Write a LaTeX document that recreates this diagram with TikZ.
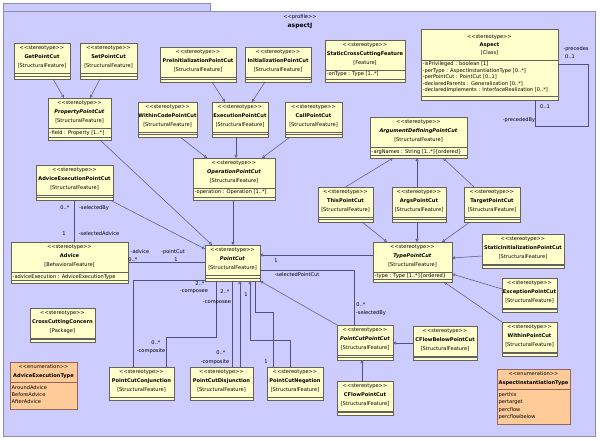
\documentclass[tikz,border=0pt]{standalone}
\usepackage{fontspec}
\setmainfont{DejaVu Sans}
\usetikzlibrary{arrows.meta,calc}
\definecolor{bgl}{RGB}{204,204,255}
\definecolor{boxfill}{RGB}{255,255,204}
\definecolor{boxline}{RGB}{100,98,90}
\definecolor{conn}{RGB}{80,80,130}
\definecolor{enumfill}{RGB}{255,204,153}
\definecolor{enumline}{RGB}{150,100,90}
\definecolor{framec}{RGB}{140,140,165}
\newcommand\umlfs{\fontsize{5.1}{6}\selectfont}
\tikzset{
  ubox/.style={draw=boxline, fill=boxfill, line width=0.5pt, inner sep=0pt, outer sep=0pt},
  ebox/.style={draw=enumline, fill=enumfill, line width=0.5pt, inner sep=0pt, outer sep=0pt},
  utxt/.style={inner sep=0pt, font=\umlfs},
  atxt/.style={inner sep=0pt, font=\umlfs, anchor=west},
  lbl/.style={inner sep=0pt, font=\umlfs},
  usep/.style={draw=boxline, line width=0.4pt},
  esep/.style={draw=enumline, line width=0.4pt},
  gen/.style={draw=conn, line width=0.5pt, -{Triangle[open, length=3pt, width=3pt]}},
  assoc/.style={draw=conn, line width=0.5pt},
}
\newcommand\ubox[7]{%
  \node[ubox, minimum width=#4pt, minimum height=#5pt, anchor=north west] (#1) at (#2,#3) {};
  \node[utxt] (#1-st) at ([yshift=-5pt]#1.north) {<{}<stereotype>{}>};
  \node[utxt] (#1-nm) at ([yshift=-14pt]#1.north) {#6};
  \node[utxt] (#1-mt) at ([yshift=-23pt]#1.north) {#7};
  \draw[usep] ([yshift=-30pt]#1.north west) -- ([yshift=-30pt]#1.north east);
  \draw[usep] ([yshift=3pt]#1.south west) -- ([yshift=3pt]#1.south east);
}
\newcommand\uattr[4]{%
  \node[atxt] (#1) at ([xshift=1.5pt,yshift=-#3pt]#2.north west) {#4};
}
\newcommand\uenum[6]{%
  \node[ebox, minimum width=#4pt, minimum height=#5pt, anchor=north west] (#1) at (#2,#3) {};
  \node[utxt] (#1-st) at ([yshift=-4.5pt]#1.north) {<{}<enumeration>{}>};
  \node[utxt] (#1-nm) at ([yshift=-14pt]#1.north) {\textbf{#6}};
  \draw[esep] ([yshift=-20pt]#1.north west) -- ([yshift=-20pt]#1.north east);
}
\begin{document}
\begin{tikzpicture}[x=1pt,y=-1pt]
\useasboundingbox (0,0) rectangle (600,441);
\fill[white] (0,0) rectangle (600,441);
\path[fill=bgl, draw=framec, line width=0.6pt] (3,3) rectangle (210,11);
\path[fill=bgl, draw=framec, line width=0.6pt] (3,11) rectangle (595,436);
\node[utxt] (ttl1) at (300,17) {<{}<profile>{}>};
\node[utxt, font=\fontsize{6}{7}\selectfont\bfseries] (ttl2) at (300,26) {aspectJ};

% boxes
\ubox{getpc}{14}{43}{56}{36}{\textbf{GetPointCut}}{[StructuralFeature]}
\ubox{setpc}{80}{43}{57}{36}{\textbf{SetPointCut}}{[StructuralFeature]}
\ubox{preinit}{160}{47}{76}{35}{\textbf{PreInitializationPointCut}}{[StructuralFeature]}
\ubox{init}{245}{47}{66}{35}{\textbf{InitializationPointCut}}{[StructuralFeature]}
\ubox{scc}{325}{40}{80}{42}{\textbf{StaticCrossCuttingFeature}}{[Feature]}
\uattr{scc-a1}{scc}{34}{-onType : Type [1..*]}

% Aspect
\node[ubox, minimum width=137pt, minimum height=71pt, anchor=north west] (aspect) at (421,29) {};
\node[utxt] (aspect-st) at ([yshift=-8pt]aspect.north) {<{}<stereotype>{}>};
\node[utxt] (aspect-nm) at ([yshift=-16pt]aspect.north) {\textbf{Aspect}};
\node[utxt] (aspect-mt) at ([yshift=-24pt]aspect.north) {[Class]};
\draw[usep] ([yshift=-31pt]aspect.north west) -- ([yshift=-31pt]aspect.north east);
\draw[usep] ([yshift=4pt]aspect.south west) -- ([yshift=4pt]aspect.south east);
\uattr{aspect-a1}{aspect}{35.5}{-isPrivileged : boolean [1]}
\uattr{aspect-a2}{aspect}{42}{-perType : AspectInstantiationType [0..*]}
\uattr{aspect-a3}{aspect}{48.5}{-perPointCut : PointCut [0..1]}
\uattr{aspect-a4}{aspect}{55}{-declaredParents : Generalization [0..*]}
\uattr{aspect-a5}{aspect}{61.5}{-declaredImplements : InterfaceRealization [0..*]}

\ubox{prop}{48}{98}{63}{42}{\textbf{\textit{PropertyPointCut}}}{[StructuralFeature]}
\uattr{prop-a1}{prop}{35.5}{-field : Property [1..*]}
\ubox{withincode}{138}{102}{59}{35}{\textbf{WithinCodePointCut}}{[StructuralFeature]}
\ubox{exec}{212}{102}{56}{35}{\textbf{ExecutionPointCut}}{[StructuralFeature]}
\ubox{call}{285}{102}{57}{35}{\textbf{CallPointCut}}{[StructuralFeature]}
\ubox{argdef}{370}{117}{97}{41}{\textbf{\textit{ArgumentDefiningPointCut}}}{[StructuralFeature]}
\uattr{argdef-a1}{argdef}{35.5}{-argNames : String [1..*]\{ordered\}}
\ubox{op}{193}{158}{82}{42}{\textbf{\textit{OperationPointCut}}}{[StructuralFeature]}
\uattr{op-a1}{op}{34.5}{-operation : Operation [1..*]}
\ubox{advexec}{36}{165}{77}{35}{\textbf{AdviceExecutionPointCut}}{[StructuralFeature]}
\ubox{this}{318}{187}{55}{35}{\textbf{ThisPointCut}}{[StructuralFeature]}
\ubox{args}{392}{187}{54}{35}{\textbf{ArgsPointCut}}{[StructuralFeature]}
\ubox{target}{464}{187}{56}{35}{\textbf{TargetPointCut}}{[StructuralFeature]}
\ubox{statinit}{482}{234}{82}{34}{\textbf{StaticInitializationPointCut}}{[StructuralFeature]}
\ubox{advice}{11}{242}{117}{41}{\textbf{Advice}}{[BehavioralFeature]}
\uattr{advice-a1}{advice}{35}{-adviceExecution : AdviceExecutionType}
\ubox{pc}{205}{245}{55}{36}{\textbf{\textit{PointCut}}}{[StructuralFeature]}
\ubox{type}{373}{242}{79}{40}{\textbf{\textit{TypePointCut}}}{[StructuralFeature]}
\uattr{type-a1}{type}{34}{-type : Type [1..*]\{ordered\}}
\ubox{except}{502}{278}{55}{34}{\textbf{ExceptionPointCut}}{[StructuralFeature]}
\ubox{cc}{30}{308}{65}{34}{\textbf{CrossCuttingConcern}}{[Package]}
\ubox{within}{502}{322}{55}{34}{\textbf{WithinPointCut}}{[StructuralFeature]}
\ubox{pcpc}{337}{325}{56}{35}{\textbf{\textit{PointCutPointCut}}}{[StructuralFeature]}
\ubox{cflowbelow}{413}{326}{64}{34}{\textbf{CFlowBelowPointCut}}{[StructuralFeature]}
\ubox{conj}{109}{367}{65}{33}{\textbf{PointCutConjunction}}{[StructuralFeature]}
\ubox{disj}{190}{367}{63}{33}{\textbf{PointCutDisjunction}}{[StructuralFeature]}
\ubox{neg}{267}{367}{56}{33}{\textbf{PointCutNegation}}{[StructuralFeature]}
\ubox{cflow}{337}{381}{56}{34}{\textbf{CFlowPointCut}}{[StructuralFeature]}

\uenum{aet}{10}{362}{67}{47}{AdviceExecutionType}
\uattr{aet-l1}{aet}{26}{AroundAdvice}
\uattr{aet-l2}{aet}{33}{BeforeAdvice}
\uattr{aet-l3}{aet}{40}{AfterAdvice}
\uenum{ait}{497}{369}{73}{55}{AspectInstantiationType}
\uattr{ait-l1}{ait}{26}{perthis}
\uattr{ait-l2}{ait}{33}{pertarget}
\uattr{ait-l3}{ait}{41}{percflow}
\uattr{ait-l4}{ait}{48}{percflowbelow}

% generalizations
\draw[gen] ([xshift=11pt]getpc.south) -- ([xshift=-15.5pt]prop.north);
\draw[gen] ([xshift=-8.5pt]setpc.south) -- ([xshift=10.5pt]prop.north);
\draw[gen] ([xshift=14pt]preinit.south) -- ([xshift=-15pt]exec.north);
\draw[gen] ([xshift=-13pt]init.south) -- ([xshift=12pt]exec.north);
\draw[gen] ([xshift=12.5pt]withincode.south) -- ([xshift=-27pt]op.north);
\draw[gen] ([xshift=-4pt]exec.south) -- ([xshift=2pt]op.north);
\draw[gen] ([xshift=-23.5pt]call.south) -- ([xshift=28pt]op.north);
\draw[gen] (this.north) -- ([xshift=-25.5pt]argdef.south);
\draw[gen] ([xshift=-2pt]args.north) -- ([xshift=-1.5pt]argdef.south);
\draw[gen] ([xshift=-18pt]target.north) -- ([xshift=24.5pt]argdef.south);
\draw[gen] ([xshift=16.5pt]this.south) -- ([xshift=-25.5pt]type.north);
\draw[gen] ([xshift=-2pt]args.south) -- ([xshift=4.5pt]type.north);
\draw[gen] ([xshift=-22pt]target.south) -- ([xshift=29.5pt]type.north);
\draw[gen] ([yshift=-5pt]statinit.west) -- ([yshift=4pt]type.east);
\draw[gen] ([yshift=6pt]except.west) -- ([yshift=-12pt]type.east);
\draw[gen] (within.north west) -- ([xshift=-8pt]type.south east);
\draw[gen] ([xshift=-1pt]op.south) -- ([xshift=0.5pt]pc.north);
\draw[gen] ([xshift=-11pt]prop.south east) -- ([xshift=7pt]pc.north west);
\draw[gen] ([xshift=-3pt]advexec.south east) -- ([yshift=-4pt]pc.north west);
\draw[gen] ([yshift=7pt]type.west) -- ([yshift=8pt]pc.east);
\draw[gen] (pcpc.north west) -- (pc.south east);
\draw[gen] ([xshift=-3pt]cflow.north) -- ([xshift=-3pt]pcpc.south);
\draw[gen] (cflowbelow.west) -- (cflowbelow.west -| pcpc.east);
\draw[gen] ([xshift=18.5pt]disj.north) -- ([xshift=18.5pt]disj.north |- pc.south);
\coordinate (ng1) at (250,340);
\draw[gen] ([xshift=-5pt]neg.north) |- (ng1) -- (ng1 |- pc.south);

% associations
\draw[assoc] (advexec.south) -- (advexec.south |- advice.north);
\draw[assoc] (advice.east) -- (advice.east -| pc.west);
\draw[assoc] ([yshift=-7pt]pc.east) -| ([xshift=-11pt]pcpc.north);
\coordinate (asp1) at (588,126);
\draw[assoc] (aspect.east) -| (asp1) -| ([xshift=45.5pt]aspect.south);
\draw[assoc] ([yshift=1pt]pc.south west) -| ([xshift=-8.5pt]conj.north);
\coordinate (cjk) at (216,337);
\draw[assoc] ([xshift=24.5pt]conj.north) |- (cjk) -- (cjk |- pc.south);
\draw[assoc] ([xshift=10.5pt]disj.north) -- ([xshift=10.5pt]disj.north |- pc.south);
\coordinate (ng2) at (273,312);
\draw[assoc] ([xshift=-22pt]neg.north) -- (ng2) -| ([xshift=-5pt]pc.south east);

% labels
\node[lbl] (l01) at (65,208) {0..*};
\node[lbl] (l02) at (94,208) {-selectedBy};
\node[lbl] (l03) at (64,234) {1};
\node[lbl] (l04) at (99,234) {-selectedAdvice};
\node[lbl] (l05) at (140,252) {-advice};
\node[lbl] (l06) at (173,252) {-pointCut};
\node[lbl] (l07) at (133,260) {0..*};
\node[lbl] (l08) at (176,260) {1};
\node[lbl] (l09) at (276,261) {1};
\node[lbl] (l10) at (297,275) {-selectedPointCut};
\node[lbl] (l11) at (361,305) {0..*};
\node[lbl] (l12) at (371,313) {-selectedBy};
\node[lbl] (l13) at (576,49) {-precedes};
\node[lbl] (l14) at (570,57) {0..1};
\node[lbl] (l15) at (545,107) {0..1};
\node[lbl] (l16) at (519,120) {-precededBy};
\node[lbl] (l17) at (200,284) {2..*};
\node[lbl] (l18) at (194,292) {-composee};
\node[lbl] (l19) at (225,292) {2..*};
\node[lbl] (l20) at (217,303) {-composee};
\node[lbl] (l21) at (246,295) {1};
\node[lbl] (l22) at (156,343) {0..*};
\node[lbl] (l23) at (151,351) {-composite};
\node[lbl] (l24) at (221,353) {0..*};
\node[lbl] (l25) at (215,362) {-composite};
\node[lbl] (l26) at (266,362) {1};
\end{tikzpicture}
\end{document}
